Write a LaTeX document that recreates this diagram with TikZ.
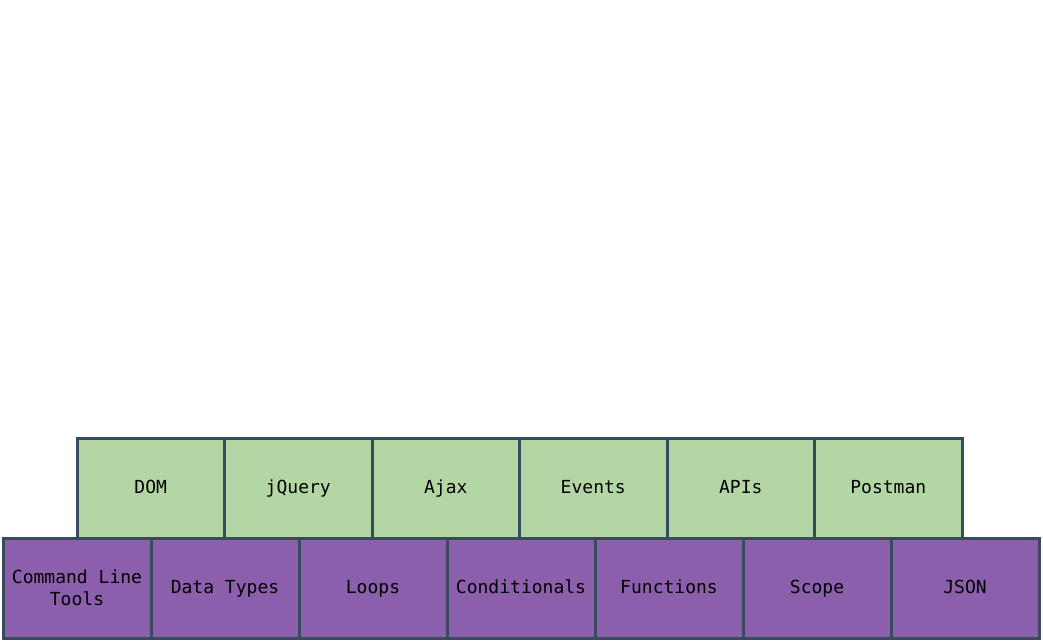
\documentclass[tikz,border=0pt]{standalone}
\usepackage{fontspec}
\setmonofont{DejaVu Sans Mono}
\definecolor{topfill}{HTML}{B3D6A5}
\definecolor{botfill}{HTML}{8C5FAC}
\definecolor{edge}{HTML}{3A4A5E}
\begin{document}
\begin{tikzpicture}[x=1pt,y=-1pt,
  cell/.style={draw=edge,line width=3pt,minimum width=148pt,minimum height=100pt,inner sep=0pt,
    font=\ttfamily\fontsize{18}{22}\selectfont,align=center,anchor=north west,outer sep=0pt,
    text height=1.05em,text depth=0pt},
  topcell/.style={cell,fill=topfill,minimum width=147.5pt},
  botcell/.style={cell,fill=botfill},
  twoline/.style={text height=,text depth=}]
\useasboundingbox (0,0) rectangle (1043,642);
\node[botcell,twoline] (b1) at (3,538) {Command Line\\Tools};
\node[botcell] (b2) at (151,538) {Data Types};
\node[botcell] (b3) at (299,538) {Loops};
\node[botcell] (b4) at (447,538) {Conditionals};
\node[botcell] (b5) at (595,538) {Functions};
\node[botcell] (b6) at (743,538) {Scope};
\node[botcell] (b7) at (891,538) {JSON};
\node[topcell] (t1) at (77,438) {DOM};
\node[topcell] (t2) at (224.5,438) {jQuery};
\node[topcell] (t3) at (372,438) {Ajax};
\node[topcell] (t4) at (519.5,438) {Events};
\node[topcell] (t5) at (667,438) {APIs};
\node[topcell] (t6) at (814.5,438) {Postman};
\end{tikzpicture}
\end{document}
